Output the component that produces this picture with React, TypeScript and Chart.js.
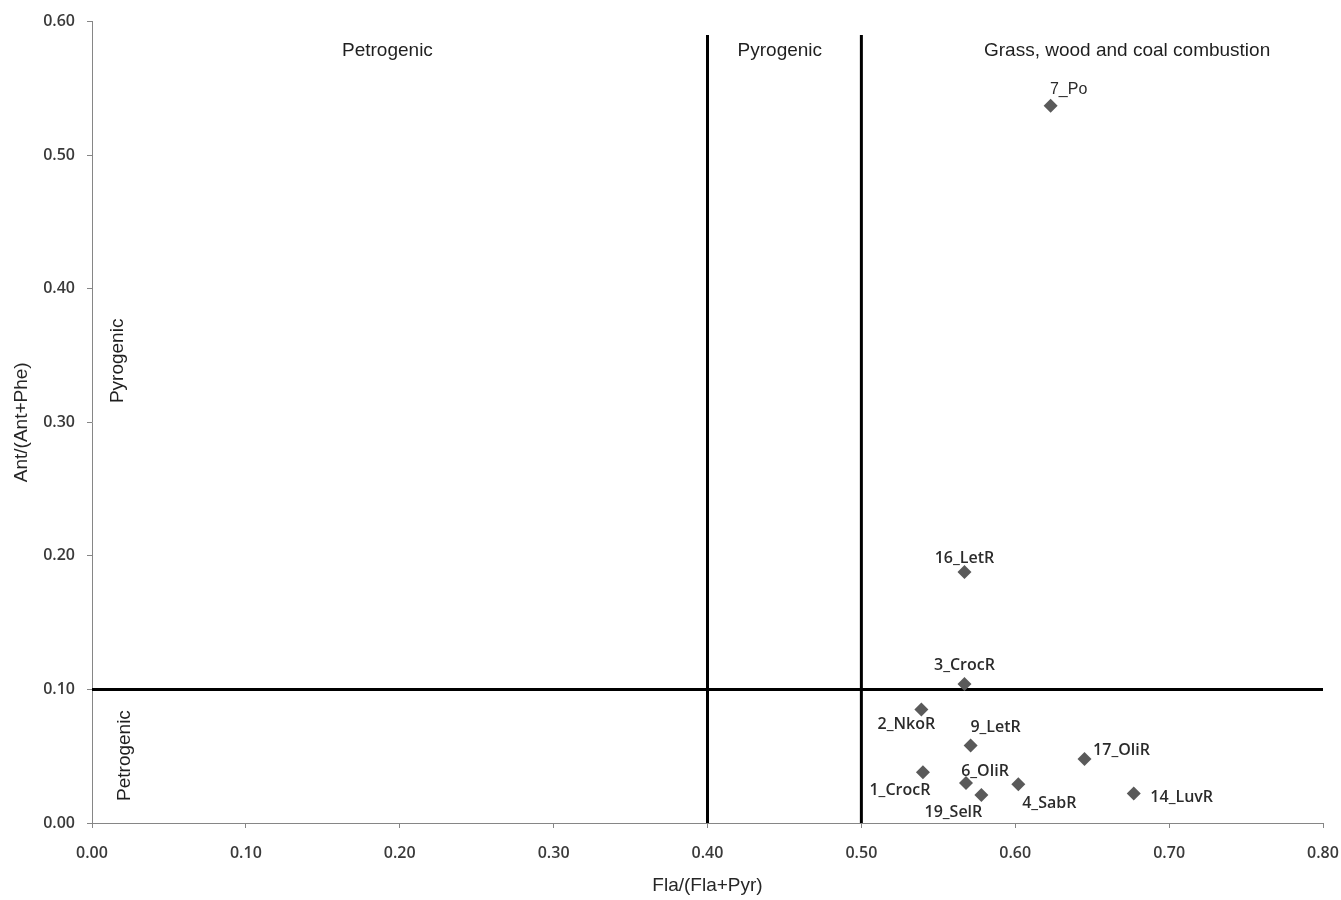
import React, { useEffect, useRef } from 'react';
import { Chart, registerables } from 'chart.js';

Chart.register(...registerables);

// ---- data ----
const sampleNames = ['7_Po', '16_LetR', '3_CrocR', '2_NkoR', '9_LetR', '17_OliR', '6_OliR', '1_CrocR', '4_SabR', '19_SelR', '14_LuvR'];
const flaFlaPyr = [0.623, 0.567, 0.567, 0.539, 0.571, 0.645, 0.568, 0.540, 0.602, 0.578, 0.677];
const antAntPhe = [0.537, 0.188, 0.104, 0.085, 0.058, 0.048, 0.030, 0.038, 0.029, 0.021, 0.022];

const xAxisMin = 0;
const xAxisMax = 0.8;
const yAxisMin = 0;
const yAxisMax = 0.6;
const tickStep = 0.1;

const flaBoundaries = [0.4, 0.5];
const flaBoundaryTop = 0.59;
const antBoundary = 0.1;

const regionTexts = ['Petrogenic', 'Pyrogenic', 'Grass, wood and coal combustion'];
const regionTextX = [0.192, 0.447, 0.6727];
const regionTextY = 0.578;
const sideTexts = ['Pyrogenic', 'Petrogenic'];
const sideTextX = [0.017, 0.0214];
const sideTextY = [0.346, 0.0505];

// label placement (pixel offsets from each marker)
const labelDx = [18, 0, 0, -15, 25, 37, 19, -23, 31, -28, 48];
const labelDy = [-16, -13, -19, 15, -18, -8, -11, 18, 19, 17, 4];

const labelPlugin = {
  id: 'pointAndRegionLabels',
  afterDatasetsDraw(chart: any) {
    const ctx = chart.ctx;
    const meta = chart.getDatasetMeta(0);
    const xs = chart.scales.x;
    const ys = chart.scales.y;
    ctx.save();
    ctx.textAlign = 'center';
    ctx.textBaseline = 'middle';
    meta.data.forEach((el: any, i: number) => {
      ctx.font = i === 0 ? '16px "Liberation Sans"' : '600 16px "Open Sans"';
      ctx.fillStyle = '#2b2b2b';
      ctx.fillText(sampleNames[i], el.x + labelDx[i], el.y + labelDy[i]);
    });
    ctx.font = '19px "Liberation Sans"';
    ctx.fillStyle = '#1f1f1f';
    regionTexts.forEach((t, i) => {
      ctx.fillText(t, xs.getPixelForValue(regionTextX[i]), ys.getPixelForValue(regionTextY));
    });
    sideTexts.forEach((t, i) => {
      ctx.save();
      ctx.translate(xs.getPixelForValue(sideTextX[i]), ys.getPixelForValue(sideTextY[i]));
      ctx.rotate(-Math.PI / 2);
      ctx.fillText(t, 0, 0);
      ctx.restore();
    });
    ctx.restore();
  },
};

export default function App() {
  const canvasRef = useRef<HTMLCanvasElement | null>(null);

  useEffect(() => {
    const canvas = canvasRef.current;
    if (!canvas) return;

    const points = flaFlaPyr.map((x, i) => ({ x, y: antAntPhe[i] }));
    const lineStyle = {
      showLine: true,
      borderColor: '#000000',
      borderWidth: 3,
      pointRadius: 0,
      pointHoverRadius: 0,
      fill: false,
    };

    const chart = new Chart(canvas, {
      type: 'scatter',
      data: {
        datasets: [
          {
            label: 'Samples',
            data: points,
            pointStyle: 'rectRot',
            pointRadius: 7,
            pointHoverRadius: 7,
            backgroundColor: '#5a5a5a',
            borderColor: '#5a5a5a',
            borderWidth: 0,
          },
          {
            label: 'b1',
            data: [{ x: flaBoundaries[0], y: yAxisMin }, { x: flaBoundaries[0], y: flaBoundaryTop }],
            ...lineStyle,
          },
          {
            label: 'b2',
            data: [{ x: flaBoundaries[1], y: yAxisMin }, { x: flaBoundaries[1], y: flaBoundaryTop }],
            ...lineStyle,
          },
          {
            label: 'b3',
            data: [{ x: xAxisMin, y: antBoundary }, { x: xAxisMax, y: antBoundary }],
            ...lineStyle,
          },
        ] as any,
      },
      options: {
        animation: false,
        responsive: false,
        maintainAspectRatio: false,
        layout: { padding: { top: 21, right: 18, left: 0, bottom: 0 } },
        plugins: {
          legend: { display: false },
          tooltip: { enabled: false },
        },
        scales: {
          x: {
            type: 'linear',
            min: xAxisMin,
            max: xAxisMax,
            afterFit: (s: any) => { s.height = 77; s.paddingRight = 0; s.paddingLeft = 0; },
            ticks: {
              stepSize: tickStep,
              padding: 16,
              color: '#3a3a3a',
              font: { family: '"Open Sans"', size: 16, weight: '600' },
              callback: (v: any) => Number(v).toFixed(2),
            },
            grid: { display: true, drawOnChartArea: false, drawTicks: true, tickLength: 5, color: '#868686' },
            border: { display: true, color: '#868686', width: 1 },
            title: {
              display: true,
              text: 'Fla/(Fla+Pyr)',
              color: '#262626',
              font: { family: '"Liberation Sans"', size: 19 },
              padding: { top: 0, bottom: 3 },
            },
          },
          y: {
            type: 'linear',
            min: yAxisMin,
            max: yAxisMax,
            afterFit: (s: any) => { s.width = 92; },
            ticks: {
              stepSize: tickStep,
              padding: 12,
              color: '#3a3a3a',
              font: { family: '"Open Sans"', size: 16, weight: '600' },
              callback: (v: any) => Number(v).toFixed(2),
            },
            grid: { display: true, drawOnChartArea: false, drawTicks: true, tickLength: 5, color: '#868686' },
            border: { display: true, color: '#868686', width: 1 },
            title: {
              display: true,
              text: 'Ant/(Ant+Phe)',
              color: '#262626',
              font: { family: '"Liberation Sans"', size: 19 },
              padding: { top: 10, bottom: 0 },
            },
          },
        },
      } as any,
      plugins: [labelPlugin],
    });

    return () => chart.destroy();
  }, []);

  return (
    <div style={{ position: 'fixed', left: 0, top: 0, width: 1341, height: 900, background: '#ffffff' }}>
      <canvas ref={canvasRef} width={1341} height={900} style={{ display: 'block', width: 1341, height: 900 }} />
    </div>
  );
}
